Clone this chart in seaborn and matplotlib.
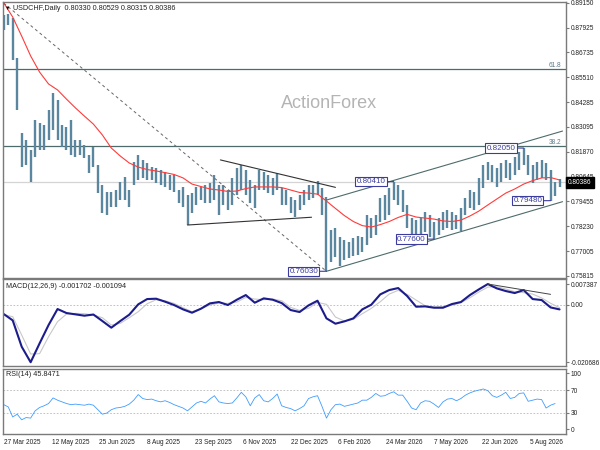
import numpy as np
import pandas as pd
import seaborn as sns
import matplotlib.pyplot as plt

# USDCHF daily, bars sampled every 3 sessions (high / low)
bar_high = [0.8855, 0.8860, 0.8840, 0.8645, 0.8278, 0.8244, 0.8195, 0.8342, 0.8327, 0.8318,
            0.8391, 0.8474, 0.8440, 0.8318, 0.8308, 0.8342, 0.8244, 0.8244, 0.8220, 0.8171,
            0.8210, 0.8122, 0.8024, 0.7990, 0.7990, 0.8000, 0.8039, 0.8063, 0.8000, 0.8137,
            0.8171, 0.8147, 0.8132, 0.8112, 0.8107, 0.8098, 0.8088, 0.8073, 0.8073, 0.8000,
            0.8015, 0.7976, 0.7985, 0.8015, 0.8015, 0.8024, 0.8034, 0.8073, 0.8024, 0.8024,
            0.8000, 0.8059, 0.8107, 0.8122, 0.8098, 0.8049, 0.8024, 0.8098, 0.8088, 0.8073,
            0.8059, 0.8083, 0.8010, 0.8000, 0.7966, 0.7951, 0.7976, 0.8000, 0.8024, 0.8024,
            0.8044, 0.8010, 0.7966, 0.7805, 0.7814, 0.7770, 0.7756, 0.7746, 0.7766, 0.7775,
            0.7770, 0.7878, 0.7863, 0.7878, 0.7961, 0.7976, 0.8010, 0.8041, 0.8024, 0.8000,
            0.7927, 0.7863, 0.7853, 0.7863, 0.7893, 0.7878, 0.7844, 0.7863, 0.7893, 0.7902,
            0.7893, 0.7878, 0.7912, 0.7961, 0.8000, 0.7990, 0.8059, 0.8122, 0.8137, 0.8122,
            0.8107, 0.8132, 0.8147, 0.8132, 0.8161, 0.8186, 0.8205, 0.8171, 0.8122, 0.8137,
            0.8147, 0.8132, 0.8098, 0.8039, 0.8054]
bar_low = [0.8782, 0.8806, 0.8635, 0.8391, 0.8112, 0.8122, 0.8039, 0.8161, 0.8195, 0.8195,
           0.8244, 0.8293, 0.8244, 0.8210, 0.8195, 0.8171, 0.8161, 0.8171, 0.8156, 0.8083,
           0.8112, 0.7985, 0.7888, 0.7878, 0.7917, 0.7917, 0.7951, 0.7951, 0.7917, 0.8024,
           0.8049, 0.8059, 0.8049, 0.8049, 0.8034, 0.8024, 0.8015, 0.8000, 0.7990, 0.7936,
           0.7917, 0.7829, 0.7888, 0.7927, 0.7951, 0.7936, 0.7936, 0.7951, 0.7878, 0.7927,
           0.7902, 0.7927, 0.7976, 0.8000, 0.7976, 0.7936, 0.7912, 0.8000, 0.8000, 0.7985,
           0.7976, 0.8000, 0.7927, 0.7927, 0.7888, 0.7868, 0.7902, 0.7927, 0.7951, 0.7961,
           0.7976, 0.7878, 0.7603, 0.7648, 0.7673, 0.7629, 0.7658, 0.7668, 0.7678, 0.7682,
           0.7697, 0.7731, 0.7766, 0.7780, 0.7844, 0.7853, 0.7878, 0.7951, 0.7927, 0.7893,
           0.7814, 0.7766, 0.7756, 0.7780, 0.7795, 0.7770, 0.7760, 0.7780, 0.7805, 0.7814,
           0.7805, 0.7809, 0.7800, 0.7878, 0.7912, 0.7902, 0.7927, 0.8010, 0.8049, 0.8039,
           0.8015, 0.8039, 0.8059, 0.8049, 0.8073, 0.8098, 0.8122, 0.8073, 0.8034, 0.8049,
           0.8059, 0.8049, 0.7948, 0.7971, 0.8015]

# moving average, every 6 sessions
ma_values = [0.8914, 0.8845, 0.8752, 0.8655, 0.8576, 0.8518, 0.8489, 0.8444, 0.8401, 0.8361,
             0.8322, 0.8269, 0.8205, 0.8166, 0.8132, 0.8112, 0.8100, 0.8093, 0.8085, 0.8076,
             0.8059, 0.8029, 0.8017, 0.8005, 0.8000, 0.7993, 0.7995, 0.8007, 0.8015, 0.8015,
             0.8015, 0.8012, 0.8000, 0.7988, 0.7985, 0.7980, 0.7946, 0.7910, 0.7875, 0.7846,
             0.7826, 0.7819, 0.7831, 0.7846, 0.7866, 0.7881, 0.7868, 0.7863, 0.7858, 0.7849,
             0.7846, 0.7853, 0.7873, 0.7897, 0.7927, 0.7956, 0.7985, 0.8005, 0.8029, 0.8046,
             0.8059, 0.8061, 0.8049]

# MACD(12,26,9), every 6 sessions
macd_main = [-0.00337, -0.00564, -0.01507, -0.02065, -0.01388, -0.00731, -0.00157, -0.00301, -0.00348, -0.00396,
             -0.00354, -0.00587, -0.00826, -0.00587, -0.00360, 0.00010, 0.00201, 0.00213, 0.00106, -0.00014,
             -0.00169, -0.00289, -0.00145, 0.00046, 0.00094, -0.00014, 0.00177, 0.00344, 0.00070, 0.00225,
             0.00177, 0.00058, -0.00193, -0.00265, -0.00026, 0.00141, -0.00492, -0.00683, -0.00599, -0.00492,
             -0.00169, -0.00002, 0.00368, 0.00524, 0.00595, 0.00309, -0.00074, -0.00062, -0.00110, -0.00110,
             0.00022, 0.00094, 0.00344, 0.00548, 0.00739, 0.00583, 0.00488, 0.00416, 0.00524, 0.00201,
             0.00165, -0.00100, -0.00170]
macd_signal = [-0.00360, -0.00432, -0.01089, -0.01770, -0.01758, -0.01149, -0.00611, -0.00337, -0.00313, -0.00325,
               -0.00372, -0.00468, -0.00731, -0.00671, -0.00468, -0.00253, 0.00034, 0.00177, 0.00141, 0.00046,
               -0.00110, -0.00253, -0.00145, -0.00014, 0.00058, 0.00046, 0.00094, 0.00261, 0.00201, 0.00177,
               0.00201, 0.00141, -0.00098, -0.00205, -0.00133, 0.00082, 0.00010, -0.00444, -0.00587, -0.00528,
               -0.00325, -0.00133, 0.00106, 0.00380, 0.00512, 0.00368, 0.00165, -0.00038, -0.00086, -0.00074,
               -0.00026, 0.00070, 0.00249, 0.00452, 0.00631, 0.00643, 0.00560, 0.00464, 0.00428, 0.00380,
               0.00240, 0.00050, -0.00110]

# RSI(14), every 3 sessions
rsi_values = [44, 40, 22, 27, 17, 21, 20, 33, 39, 42,
              46, 56, 52, 49, 46, 44, 45, 44, 43, 45,
              43, 35, 27, 29, 35, 38, 39, 41, 45, 52,
              62, 55, 53, 54, 51, 49, 51, 48, 44, 41,
              38, 33, 40, 47, 50, 47, 54, 60, 49, 47,
              46, 47, 56, 66, 58, 42, 56, 62, 51, 49,
              55, 63, 42, 39, 37, 33, 37, 42, 55, 58,
              60, 41, 20, 35, 44, 45, 41, 43, 45, 47,
              52, 52, 57, 64, 59, 60, 64, 67, 61, 61,
              50, 38, 35, 47, 51, 50, 45, 39, 49, 54,
              55, 51, 55, 61, 65, 68, 70, 72, 69, 60,
              57, 61, 66, 55, 57, 64, 65, 50, 52, 54,
              53, 38, 43, 46]

date_labels = ["27 Mar 2025", "12 May 2025", "25 Jun 2025", "8 Aug 2025", "23 Sep 2025",
               "6 Nov 2025", "22 Dec 2025", "6 Feb 2026", "24 Mar 2026", "7 May 2026",
               "22 Jun 2026", "5 Aug 2026"]
price_ticks = [0.89150, 0.87925, 0.86735, 0.85510, 0.84285, 0.83095,
               0.81870, 0.80645, 0.79455, 0.78230, 0.77005, 0.75815]

swing_bar = [216, 261, 288, 348, 366]
swing_price = [0.7603, 0.8041, 0.7760, 0.8205, 0.7948]
swing_text = ["0.76030", "0.80410", "0.77600", "0.82050", "0.79480"]

fib_levels = [0.8591, 0.82165]
fib_names = ["61.8", "38.2"]
last_close = 0.80386

# drawn trend lines: (bar0, price0, bar1, price1)
down_line = (0, 0.8913, 216, 0.7603)
tri_upper = (145, 0.8147, 222, 0.8013)
tri_lower = (123, 0.7829, 206, 0.7867)
chan_lower = (216, 0.7603, 374, 0.7943)
chan_upper = (216, 0.7951, 374, 0.8288)
macd_line = (324, 0.0074, 366, 0.0037)

bars = pd.DataFrame({"bar": np.arange(len(bar_high)) * 3, "high": bar_high, "low": bar_low})
ma_bar = np.arange(len(ma_values)) * 6
macd_bar = np.arange(len(macd_main)) * 6
rsi_bar = np.arange(len(rsi_values)) * 3

sns.set_style("white")
plt.rcParams['font.family'] = ['Liberation Sans', 'DejaVu Sans']

fs = 5.2    # panel captions
tfs = 4.7   # axis tick labels
frame = "#7a7a7a"
box_col = "#3c3ca0"
line_col = "#4e6b6b"

fig = plt.figure(figsize=(6, 4.5), dpi=100)
ax1 = fig.add_axes([0.005, 0.3822, 0.9383, 0.6133])
ax2 = fig.add_axes([0.005, 0.1873, 0.9383, 0.1927])
ax3 = fig.add_axes([0.005, 0.0349, 0.9383, 0.1444])

for ax in (ax1, ax2, ax3):
    ax.set_xlim(-0.5, 376.3)
    for s in ax.spines.values():
        s.set_color(frame)
        s.set_linewidth(1.0)
    ax.yaxis.tick_right()
    ax.tick_params(axis='y', labelsize=tfs, length=2, pad=1.2, colors='#222222')
    ax.tick_params(axis='y', color=frame)
    ax.set_xlabel("")
    ax.set_ylabel("")

# --- price panel
ax1.set_ylim(0.75701, 0.89184)
ax1.axhline(last_close, color="#d4d4d4", lw=0.9, zorder=0.5)
for lvl, nm in zip(fib_levels, fib_names):
    ax1.axhline(lvl, color=line_col, lw=0.9, zorder=1)
    ax1.text(373, lvl, nm, ha='right', va='bottom', fontsize=tfs, color="#5a7a8a")

ax1.vlines(bars["bar"], bars["low"], bars["high"], color="#5b86a0", lw=1.7, zorder=2)
sns.lineplot(x=ma_bar, y=ma_values, ax=ax1, color="#ff3b3b", lw=0.8, zorder=3, legend=False)

x0, y0, x1, y1 = down_line
ax1.plot([x0, x1], [y0, y1], color="#666666", lw=0.7, ls=(0, (3, 3)), zorder=3)
for seg, col in [(tri_upper, "#333333"), (tri_lower, "#333333"),
                 (chan_lower, line_col), (chan_upper, line_col)]:
    x0, y0, x1, y1 = seg
    ax1.plot([x0, x1], [y0, y1], color=col, lw=0.8, zorder=3)

for b, p, t in zip(swing_bar, swing_price, swing_text):
    ax1.annotate(t, xy=(b, p), xytext=(-6, 0), textcoords='offset points',
                 ha='right', va='center', fontsize=5.8, color=box_col, zorder=5,
                 bbox=dict(boxstyle='square,pad=0.15', fc='white', ec=box_col, lw=0.8),
                 arrowprops=dict(arrowstyle='-', color=box_col, lw=0.8, shrinkA=0, shrinkB=0))

ax1.text(0.579, 0.634, "ActionForex", transform=ax1.transAxes, ha='center', va='center',
         fontsize=13, color="#b4b4b4", zorder=1)
ax1.text(0.004, 0.978, "\u25bc", transform=ax1.transAxes, ha='left', va='center',
         fontsize=4, color='black')
ax1.text(0.0178, 0.978, "USDCHF,Daily  0.80330 0.80529 0.80315 0.80386",
         transform=ax1.transAxes, ha='left', va='center', fontsize=fs, color='#222222')
ax1.set_yticks(price_ticks)
ax1.set_yticklabels([f"{t:.5f}" for t in price_ticks])
ax1.set_xticks([])
ax1.text(1.004, last_close, "0.80386", transform=ax1.get_yaxis_transform(),
         ha='left', va='center', fontsize=tfs, color='white', clip_on=False, zorder=6,
         bbox=dict(boxstyle='square,pad=0.3', fc='black', ec='black'))

# --- MACD panel
ax2.set_ylim(-0.0219, 0.0092)
ax2.axhline(0, color="#b8b8b8", lw=0.6, ls=(0, (2, 2)))
sns.lineplot(x=macd_bar, y=macd_signal, ax=ax2, color="#c8c8c8", lw=0.8, legend=False)
sns.lineplot(x=macd_bar, y=macd_main, ax=ax2, color="#1c1c8c", lw=1.5, legend=False)
x0, y0, x1, y1 = macd_line
ax2.plot([x0, x1], [y0, y1], color="#444444", lw=0.7)
ax2.set_yticks([0.007387, 0.0, -0.020686])
ax2.set_yticklabels(["0.007387", "0.00", "-0.020686"])
ax2.set_xticks([])
ax2.text(0.006, 0.908, "MACD(12,26,9) -0.001702 -0.001094", transform=ax2.transAxes,
         ha='left', va='center', fontsize=fs, color='#222222')

# --- RSI panel
ax3.set_ylim(-8.9, 107.1)
for lvl in (70, 30):
    ax3.axhline(lvl, color="#b8b8b8", lw=0.6, ls=(0, (2, 2)))
sns.lineplot(x=rsi_bar, y=rsi_values, ax=ax3, color="#3f9cff", lw=0.6, legend=False)
ax3.set_yticks([100, 70, 30, 0])
ax3.set_yticklabels(["100", "70", "30", "0"])
ax3.set_xticks(np.arange(len(date_labels)) * 32)
ax3.set_xticklabels(date_labels, ha='left')
ax3.tick_params(axis='x', labelsize=tfs, length=2, pad=1.5, color=frame, colors='#222222')
ax3.text(0.006, 0.923, "RSI(14) 45.8471", transform=ax3.transAxes,
         ha='left', va='center', fontsize=fs, color='#222222')

fig.savefig("out.png", dpi=100)
